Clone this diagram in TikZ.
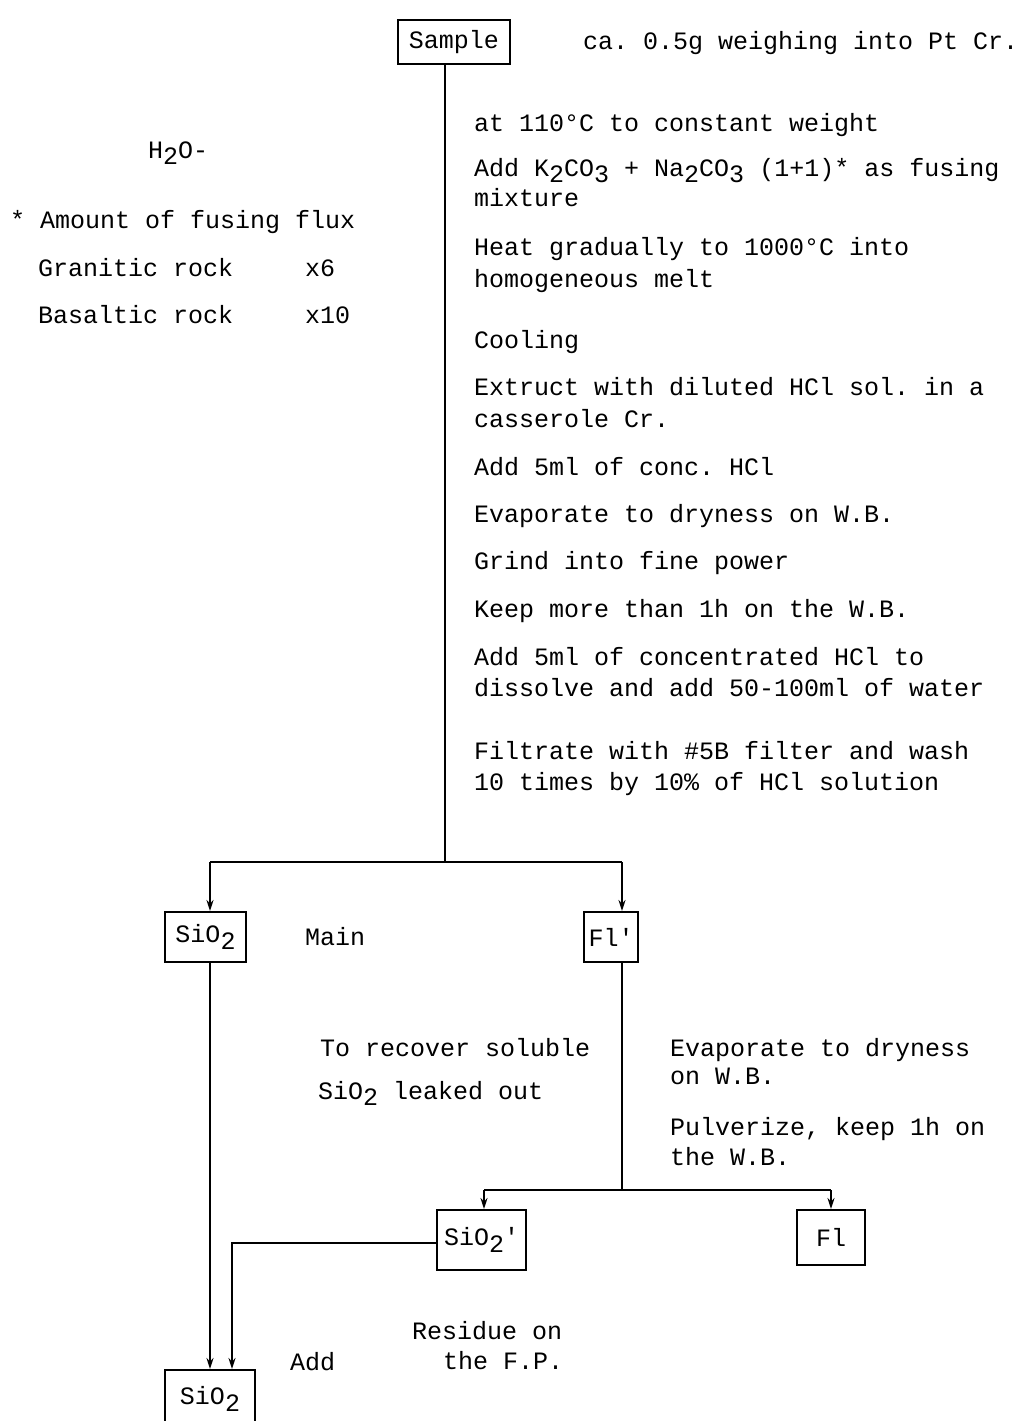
\documentclass[tikz,border=0pt]{standalone}
\usepackage{fontspec}
\setmonofont{Liberation Mono}
\usetikzlibrary{arrows.meta}
\newcommand\sbs[1]{\raisebox{-0.27em}{#1}}
\begin{document}
\begin{tikzpicture}[x=1pt,y=-1pt,
  every node/.style={font=\ttfamily\fontsize{25}{30}\selectfont},
  lbl/.style={anchor=base west, inner sep=0pt},
  box/.style={draw, line width=2pt, inner sep=0pt, align=center},
  conn/.style={line width=2pt},
  arr/.style={conn, -{Stealth[length=11pt,width=7pt]}}]
\clip (0,0) rectangle (1021,1421);
\fill[white] (0,0) rectangle (1021,1421);

% boxes
\node[box, minimum width=112, minimum height=44] (sample) at (454,42) {Sample};
\node[box, minimum width=81, minimum height=50] (sio2a) at (205.5,937) {SiO\sbs{2}};
\node[box, minimum width=54, minimum height=50] (flp) at (611,937) {Fl'};
\node[box, minimum width=89, minimum height=60] (sio2b) at (481.5,1240) {SiO\sbs{2}'};
\node[box, minimum width=68, minimum height=55] (fl) at (831,1237.5) {Fl};
\node[box, minimum width=90, minimum height=58] (sio2c) at (210,1399) {SiO\sbs{2}};

% connector coordinates
\coordinate (j1) at (445,862);
\coordinate (la) at (210,862);
\coordinate (ra) at (622,862);
\coordinate (j2) at (622,1190);
\coordinate (lb) at (484,1190);
\coordinate (rb) at (831,1190);
\coordinate (rc) at (232,1243);

\draw[conn] (sample.south -| j1) -- (j1);
\draw[conn] (la) -- (ra);
\draw[arr] (la) -- (la |- sio2a.north);
\draw[arr] (ra) -- (ra |- flp.north);
\draw[arr] (la |- sio2a.south) -- (la |- sio2c.north);
\draw[conn] (ra |- flp.south) -- (j2);
\draw[conn] (lb) -- (rb);
\draw[arr] (lb) -- (lb |- sio2b.north);
\draw[arr] (rb) -- (rb |- fl.north);
\draw[arr] (sio2b.west |- rc) -- (rc) -- (rc |- sio2c.north);

% main column text
\node[lbl] (t0) at (583,49) {ca. 0.5g weighing into Pt Cr.};
\node[lbl] (t1) at (474,131) {at 110°C to constant weight};
\node[lbl] (t2a) at (474,176) {Add K\sbs{2}CO\sbs{3} + Na\sbs{2}CO\sbs{3} (1+1)* as fusing};
\node[lbl] (t2b) at (474,206) {mixture};
\node[lbl] (t3a) at (474,255) {Heat gradually to 1000°C into};
\node[lbl] (t3b) at (474,287) {homogeneous melt};
\node[lbl] (t4) at (474,348) {Cooling};
\node[lbl] (t5a) at (474,395) {Extruct with diluted HCl sol. in a};
\node[lbl] (t5b) at (474,427) {casserole Cr.};
\node[lbl] (t6) at (474,475) {Add 5ml of conc. HCl};
\node[lbl] (t7) at (474,522) {Evaporate to dryness on W.B.};
\node[lbl] (t8) at (474,569) {Grind into fine power};
\node[lbl] (t9) at (474,617) {Keep more than 1h on the W.B.};
\node[lbl] (t10a) at (474,665) {Add 5ml of concentrated HCl to};
\node[lbl] (t10b) at (474,696) {dissolve and add 50-100ml of water};
\node[lbl] (t11a) at (474,759) {Filtrate with \#5B filter and wash};
\node[lbl] (t11b) at (474,790) {10 times by 10\% of HCl solution};

% left notes
\node[lbl] (h2o) at (148,158) {H\sbs{2}O-};
\node[lbl] (n1) at (10,228) {* Amount of fusing flux};
\node[lbl] (n2) at (38,276) {Granitic rock};
\node[lbl] (n2x) at (305,276) {x6};
\node[lbl] (n3) at (38,323) {Basaltic rock};
\node[lbl] (n3x) at (305,323) {x10};

% lower labels
\node[lbl] (main) at (305,945) {Main};
\node[lbl] (r1) at (320,1056) {To recover soluble};
\node[lbl] (r2) at (318,1099) {SiO\sbs{2} leaked out};
\node[lbl] (e1) at (670,1056) {Evaporate to dryness};
\node[lbl] (e2) at (670,1084) {on W.B.};
\node[lbl] (p1) at (670,1135) {Pulverize, keep 1h on};
\node[lbl] (p2) at (670,1165) {the W.B.};
\node[lbl] (res1) at (412,1339) {Residue on};
\node[lbl] (res2) at (443,1369) {the F.P.};
\node[lbl] (add) at (290,1370) {Add};
\end{tikzpicture}
\end{document}
